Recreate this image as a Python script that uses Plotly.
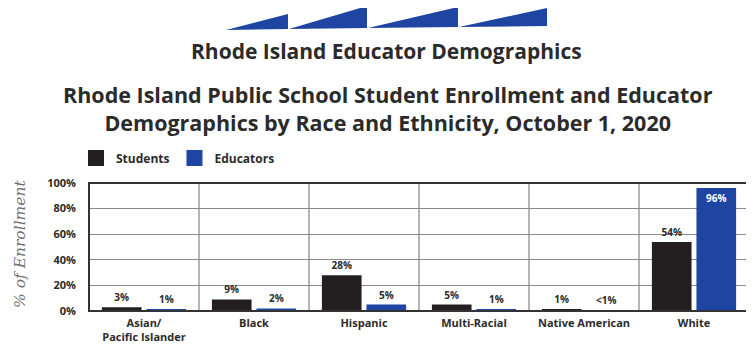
import plotly.graph_objects as go

categories = ["Asian/<br>Pacific Islander", "Black", "Hispanic", "Multi-Racial", "Native American", "White"]
students = [3, 9, 28, 5, 1, 54]
educators = [1, 2, 5, 1, 0.4, 96]
students_labels = ["3%", "9%", "28%", "5%", "1%", "54%"]
educators_labels = ["1%", "2%", "5%", "1%", "<1%", "96%"]
y_ticks = [0, 20, 40, 60, 80, 100]
y_tick_labels = ["0%", "20%", "40%", "60%", "80%", "100%"]
series_names = ["Students", "Educators"]

# page body has an 8px margin; size the figure so it fits the 754x347 window
OFF = 8
W, H = 754 - OFF, 347 - OFF
# plot area in window pixels
L, R, T, B = 89, 749, 183, 311
def px(x):
    return (x - L) / (R - L)
def py(y):
    return (B - y) / (B - T)

BLACK = "#231f20"
BLUE = "#1e45a2"
FONT = "Open Sans"
TXT = "#2b2b2b"

edu_pos = ["inside" if v > 90 else "outside" for v in educators]
edu_col = ["white" if v > 90 else TXT for v in educators]

fig = go.Figure()
fig.add_bar(x=categories, y=students, name=series_names[0], marker_color=BLACK,
            marker_line_width=0, text=students_labels, textposition="outside",
            textfont=dict(family=FONT, size=10, color=TXT, weight="bold"),
            cliponaxis=False, showlegend=False)
fig.add_bar(x=categories, y=educators, name=series_names[1], marker_color=BLUE,
            marker_line_width=0, text=educators_labels, textposition=edu_pos,
            insidetextanchor="end",
            textfont=dict(family=FONT, size=10, color=edu_col, weight="bold"),
            cliponaxis=False, showlegend=False)
for name, col in zip(series_names, [BLACK, BLUE]):
    fig.add_scatter(x=[None], y=[None], mode="markers", name=name,
                    marker=dict(symbol="square", size=17, color=col))

shapes = []
for i in range(len(categories) - 1):
    shapes.append(dict(type="line", xref="x", yref="paper", x0=i + 0.5, x1=i + 0.5,
                       y0=0, y1=1, line=dict(color="#6b6b6b", width=1), layer="below"))
shapes.append(dict(type="rect", xref="paper", yref="paper", x0=0, x1=1, y0=0, y1=1,
                   line=dict(color="#333333", width=2)))
sails = [((226, 30), (288, 14), (288, 29)),
         ((289, 29), (367, 6), (367, 28)),
         ((368, 28), (458, 7), (458, 27)),
         ((459, 27), (547, 8), (547, 26))]
for tri in sails:
    path = "M {} {} L {} {} L {} {} Z".format(*(v for p in tri for v in (px(p[0]), py(p[1]))))
    shapes.append(dict(type="path", xref="paper", yref="paper", path=path,
                       fillcolor=BLUE, line=dict(width=0)))

annotations = [
    dict(text="<b>Rhode Island Educator Demographics</b>", xref="paper", yref="paper",
         x=px(386), y=py(51), showarrow=False, xanchor="center", yanchor="middle",
         font=dict(family=FONT, size=21, color=TXT)),
    dict(text="<b>Rhode Island Public School Student Enrollment and Educator<br>Demographics by Race and Ethnicity, October 1, 2020</b>",
         xref="paper", yref="paper", x=px(388), y=py(108), showarrow=False,
         xanchor="center", yanchor="middle",
         font=dict(family=FONT, size=21.5, color=TXT)),
    dict(text="% of Enrollment", xref="paper", yref="paper", x=px(20), y=py(244),
         showarrow=False, textangle=-90, xanchor="center", yanchor="middle",
         font=dict(family="DejaVu Serif", size=15.5, color="#707070", style="italic")),
]

fig.update_layout(
    width=W, height=H,
    margin=dict(l=L - OFF, r=754 - R, t=T - OFF, b=347 - B, pad=0, autoexpand=False),
    paper_bgcolor="white", plot_bgcolor="white",
    barmode="group", bargap=0.19, bargroupgap=0.11,
    shapes=shapes, annotations=annotations,
    legend=dict(orientation="h", x=px(76), y=py(158), xanchor="left", yanchor="middle",
                font=dict(family=FONT, size=12, color=TXT, weight="bold"),
                itemwidth=30, traceorder="normal", bgcolor="rgba(0,0,0,0)"),
    xaxis=dict(showgrid=False, automargin=False,
               tickfont=dict(family=FONT, size=11, color=TXT, weight="bold"),
               showline=False, ticks="", ticklabelstandoff=4),
    yaxis=dict(range=[0, 100], tickvals=y_ticks, ticktext=y_tick_labels, automargin=False,
               showgrid=True, gridcolor="#8a8a8a", gridwidth=1, zeroline=False,
               tickfont=dict(family=FONT, size=11, color=TXT, weight="bold"),
               ticks="", ticklabelstandoff=12),
    showlegend=True,
)

fig.write_html("out.html")
